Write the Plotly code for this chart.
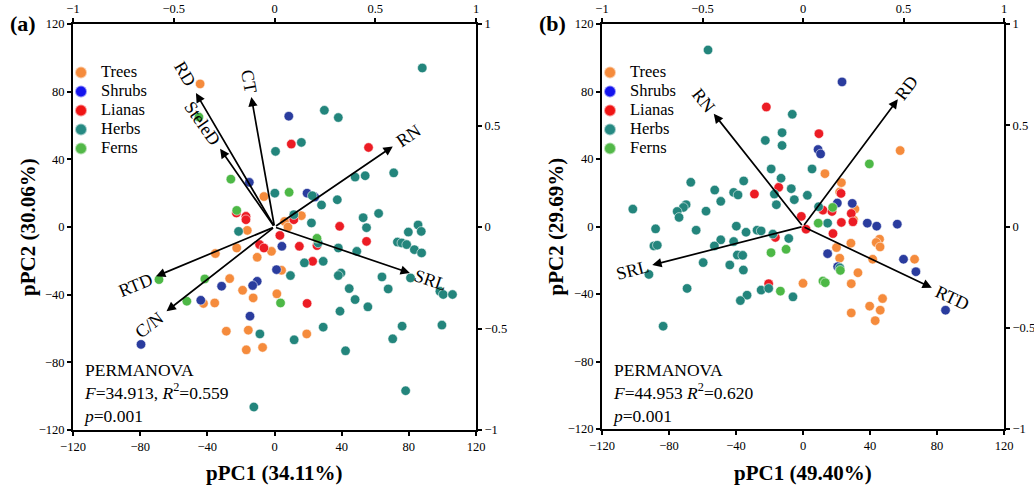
import math
import plotly.graph_objects as go

# ---------------- data ----------------
groups = ["Trees", "Shrubs", "Lianas", "Herbs", "Ferns"]

# Panel (a) sample scores (pPC1, pPC2)
a_trees = [(-44.3, 84.6), (-6.3, 18), (16, 6.7), (6, 3.3), (8, 0), (-16.2, -2), (-1.8, -14.4),
           (-22.5, -12.4), (-35.2, -15.7), (-10.3, -17.9), (4.2, -25.6), (-26.7, -30.5), (-19, -37.4),
           (1.4, -39.5), (-12.7, -41.9), (-42.3, -45.2), (-35.6, -44.9), (-28.7, -61.6), (-15.6, -61),
           (19.2, -63.2), (-16.8, -72.6), (-7.1, -71.2)]
a_shrubs = [(8.5, 65.5), (-15, 26.4), (19.4, 20), (24, 17.7), (4.4, -11.4), (1.2, -25.2), (-31.5, -35),
            (-10.3, -32.1), (-13, -34.6), (-43.9, -43.3), (-14.6, -52.7), (-79.5, -69.4)]
a_lianas = [(10, 49), (56, 47), (-22.7, 8.3), (-17, 6.3), (-17, 4.3), (11.5, 4.3), (38.8, 0.4), (3.2, -5),
            (-8.9, -10.4), (-6.3, -12.4), (14.8, -11.4), (25.3, -11), (54.8, -8.5), (22.7, -20.3),
            (19.4, -45.2)]
a_herbs = [(88, 94), (29.7, 69), (38, 64.7), (16, 50), (0.6, 44.7), (71, 32), (54, 30.3), (48, 29.5),
           (0.2, 20), (22.5, 18.5), (28, 13), (37.4, 16.1), (62, 8), (52.8, 5.5), (11.5, 7.3), (22, 2.4),
           (54.8, -0.4), (85.5, 1.2), (87.4, -2.6), (79.7, -3), (-21.4, -2.6), (26, -9.4), (38, -12.4),
           (49, -14.4), (73.2, -8.9), (75.8, -9.4), (78.7, -10.4), (83.3, -13.4), (87.6, -15.3),
           (17.8, -21.2), (29, -20.3), (39.6, -27.2), (38, -28.7), (9.5, -28.7), (64, -29.5), (81, -30.1),
           (44.5, -36.4), (67.7, -36.6), (98.5, -38), (100.5, -39.9), (106, -39.9), (48, -42.9),
           (55.6, -47.2), (39, -49.8), (29, -59.2), (76, -58.6), (99.7, -58), (-8.7, -63.2),
           (11.7, -66.7), (70.4, -66.1), (42.3, -73.2), (78.1, -96.8), (-12.3, -106.4)]
a_ferns = [(-45, 65), (-26, 28.3), (8.7, 20.5), (-22.5, 9.8), (25.3, -6.7), (-68.8, -31.1),
           (-41.5, -30.7), (-52.2, -43.9), (3.6, -44.9)]

# Panel (b) sample scores
b_trees = [(58, 45), (13.1, 31.3), (22.9, 26), (21.9, 20.4), (31, 10.3), (30.2, 4), (45.7, -7.5),
           (43.7, -9.5), (28.6, -9.9), (46, -12.1), (20, -12.5), (21.9, -18.8), (41.6, -19.4),
           (66.6, -19.4), (32.8, -27.4), (0, -33.7), (28.8, -33.9), (47.5, -42.7), (39.8, -47.2),
           (46.1, -49.6), (28.8, -51.2), (43.1, -55.8)]
b_shrubs = [(23.3, 85.7), (9, 45.6), (10.5, 43), (20.5, 13.9), (29.4, 13.7), (38.4, 2), (44, 0.2),
            (56.3, 1.4), (14.7, -16.1), (20.7, -23.8), (60, -19.4), (67.4, -26.8), (85.1, -49.6)]
b_lianas = [(-21.9, 70.8), (9.5, 55), (-14.5, 23.2), (-29, 19.2), (22.7, 19.6), (11.9, 9.7), (17.3, 8.9),
            (28.8, 7.7), (-1, 6), (22.9, 2.4), (29.8, 2.8), (1.8, -1.6), (-16.5, -6.5), (17.9, -4.2),
            (-20.5, -33.9)]
b_herbs = [(-56.7, 104.6), (-6.4, 66.5), (-12.5, 55.6), (-22.5, 51), (-12.5, 48), (-19, 34.1), (5.4, 34.1),
           (-67, 26.2), (-35.4, 27), (-13.1, 28.6), (-52.7, 21.6), (-41.4, 20.2), (-38.8, 18.7), (-7, 22.4),
           (-17.1, 19.2), (2.6, 18.5), (-49.1, 14.9), (-5.2, 15.9), (-69.8, 12.9), (-71.4, 11.3),
           (-101.6, 10.3), (-15.9, 12.9), (9.3, 11.7), (-75.1, 8.9), (-57.9, 9.1), (-74, 5.4), (14.7, 2),
           (-88, -1.4), (-63.8, -2.2), (-39.8, 0.2), (-34, -3.4), (-27.4, -2.2), (-25, -2.6), (-89, -11.5),
           (-87, -11.1), (-49.1, -7.9), (-52.9, -11.5), (-41.4, -8.9), (-8.5, -7.1), (-18, -4.5),
           (-59.6, -21.4), (-43.7, -22.8), (-39.2, -16.9), (-36, -17.1), (-35.6, -25.8), (22, -24.5),
           (-92, -28.4), (-69.2, -36.7), (-25, -37.7), (-20.5, -36.7), (-6, -41.7), (-33.4, -40.7),
           (-37.4, -43.9), (-83.5, -59.1)]
b_ferns = [(39.6, 37.1), (17.7, 11.3), (9.1, 2), (-19.1, -15.5), (-10.1, -13.5), (22.3, -26),
           (11.9, -32.3), (13.3, -33.3), (-13.5, -38.3)]

# Trait loadings (top/right axes, -1..1)
a_traits = ["RD", "SteleD", "CT", "RN", "SRL", "RTD", "C/N"]
a_load_x = [-0.39, -0.27, -0.115, 0.587, 0.672, -0.588, -0.536]
a_load_y = [0.66, 0.385, 0.64, 0.397, -0.227, -0.243, -0.415]

b_traits = ["RN", "RD", "SRL", "RTD"]
b_load_x = [-0.444, 0.472, -0.75, 0.641]
b_load_y = [0.557, 0.628, -0.19, -0.303]

axis_ticks = [-120, -80, -40, 0, 40, 80, 120]
load_ticks = [-1, -0.5, 0, 0.5, 1]

a_stats = ["PERMANOVA", "<i>F</i>=34.913, <i>R</i><sup>2</sup>=0.559", "<i>p</i>=0.001"]
b_stats = ["PERMANOVA", "<i>F</i>=44.953 <i>R</i><sup>2</sup>=0.620", "<i>p</i>=0.001"]
a_xtitle, a_ytitle = "pPC1 (34.11%)", "pPC2 (30.06%)"
b_xtitle, b_ytitle = "pPC1 (49.40%)", "pPC2 (29.69%)"

# ---------------- styles ----------------
W, H = 1034, 487
FONT = "Liberation Serif"
point_colors = {"Trees": "#F58B3C", "Shrubs": "#2A3C9E", "Lianas": "#EC1C24",
                "Herbs": "#23857C", "Ferns": "#4DB846"}
legend_colors = {"Trees": "#F58B3C", "Shrubs": "#1414EE", "Lianas": "#F01414",
                 "Herbs": "#268A83", "Ferns": "#52B848"}
label_scale_a = {"RD": 1.14, "SteleD": 1.33, "CT": 1.12, "RN": 1.13, "SRL": 1.15, "RTD": 1.17, "C/N": 1.16}
label_scale_b = {"RN": 1.12, "RD": 1.09, "SRL": 1.13, "RTD": 1.16}

# pixel layout
pa = dict(x0=73, x1=476, y0=24, y1=430)
pb = dict(x0=602, x1=1004, y0=24, y1=429)


def px_dom(p):
    return [p["x0"] / W, p["x1"] / W], [1 - p["y1"] / H, 1 - p["y0"] / H]


fig = go.Figure()

panels = [
    ("a", [a_trees, a_shrubs, a_lianas, a_herbs, a_ferns], "x", "y", "x3", "y3", "legend"),
    ("b", [b_trees, b_shrubs, b_lianas, b_herbs, b_ferns], "x2", "y2", "x4", "y4", "legend2"),
]

for tag, data, xa, ya, xa2, ya2, leg in panels:
    for g, pts in zip(groups, data):
        fig.add_trace(go.Scatter(
            x=[p[0] for p in pts], y=[p[1] for p in pts], mode="markers", name=g,
            xaxis=xa, yaxis=ya, showlegend=False, legendgroup=tag + g,
            marker=dict(size=9.5, color=point_colors[g],
                        line=dict(width=1, color="rgba(255,255,255,0.55)")),
            hoverinfo="x+y+name"))
    for g in groups:
        fig.add_trace(go.Scatter(
            x=[None], y=[None], mode="markers",
            name='<span style="font-size:16.5px">' + g + '</span>', xaxis=xa, yaxis=ya,
            legend=leg, legendgroup=tag + g,
            marker=dict(size=10, color=legend_colors[g],
                        line=dict(width=1, color="rgba(255,255,255,0.55)"))))
    # secondary (loading) axes
    fig.add_trace(go.Scatter(x=[None], y=[None], xaxis=xa2, yaxis=ya2, showlegend=False,
                             hoverinfo="skip"))

base_axis = dict(showgrid=False, zeroline=False, showline=True, linecolor="black", linewidth=2,
                 ticks="outside", ticklen=4, tickwidth=1.5, tickcolor="black", automargin=False,
                 tickfont=dict(family=FONT, size=12.5, color="black"))

layout_axes = {}
for p, xn, yn, xn2, yn2, xr, yr in [(pa, "xaxis", "yaxis", "xaxis3", "yaxis3", "x", "y"),
                                     (pb, "xaxis2", "yaxis2", "xaxis4", "yaxis4", "x2", "y2")]:
    xd, yd = px_dom(p)
    layout_axes[xn] = dict(base_axis, domain=xd, range=[-120, 120], tickvals=axis_ticks, anchor=yr)
    layout_axes[yn] = dict(base_axis, domain=yd, range=[-120, 120], tickvals=axis_ticks, anchor=xr)
    layout_axes[xn2] = dict(base_axis, range=[-1, 1], tickvals=load_ticks, overlaying=xr, side="top",
                            anchor=yr)
    layout_axes[yn2] = dict(base_axis, range=[-1, 1], tickvals=load_ticks, overlaying=yr, side="right",
                            anchor=xr)

annotations = []


def add_biplot(traits, lx, ly, scales, xr, yr):
    for t, vx, vy in zip(traits, lx, ly):
        tx, ty = vx * 120, vy * 120
        annotations.append(dict(x=tx, y=ty, ax=0, ay=0, xref=xr, yref=yr, axref=xr, ayref=yr,
                                text="", showarrow=True, arrowhead=2, arrowsize=1.1,
                                arrowwidth=1.7, arrowcolor="black"))
        ang = math.degrees(math.atan2(vy, vx))
        if ang > 90:
            ang -= 180
        elif ang < -90:
            ang += 180
        s = scales[t]
        annotations.append(dict(x=tx * s, y=ty * s, xref=xr, yref=yr, text=t, showarrow=False,
                                textangle=-ang, font=dict(family=FONT, size=18, color="black")))


add_biplot(a_traits, a_load_x, a_load_y, label_scale_a, "x", "y")
add_biplot(b_traits, b_load_x, b_load_y, label_scale_b, "x2", "y2")

for p, stats, xt, yt, lab, ytx in [(pa, a_stats, a_xtitle, a_ytitle, "(a)", 28),
                                   (pb, b_stats, b_xtitle, b_ytitle, "(b)", 555)]:
    annotations.append(dict(xref="paper", yref="paper", x=(p["x0"] + 8) / W, y=1 - 358 / H,
                            xanchor="left", yanchor="top", align="left", showarrow=False,
                            text="<br>".join(stats), font=dict(family=FONT, size=17.5, color="black")))
    annotations.append(dict(xref="paper", yref="paper", x=(p["x0"] + p["x1"]) / 2 / W, y=1 - 473 / H,
                            xanchor="center", yanchor="middle", showarrow=False,
                            text="<b>" + xt + "</b>", font=dict(family=FONT, size=21, color="black")))
    annotations.append(dict(xref="paper", yref="paper", x=ytx / W, y=1 - (p["y0"] + p["y1"]) / 2 / H,
                            xanchor="center", yanchor="middle", showarrow=False, textangle=-90,
                            text="<b>" + yt + "</b>", font=dict(family=FONT, size=21, color="black")))
    annotations.append(dict(xref="paper", yref="paper", x=(p["x0"] - 50) / W, y=1 - 24 / H,
                            xanchor="center", yanchor="middle", showarrow=False,
                            text="<b>" + lab + "</b>", font=dict(family=FONT, size=22, color="black")))

legend_style = dict(font=dict(family=FONT, size=11.8, color="black"), bgcolor="rgba(0,0,0,0)",
                    borderwidth=0, xanchor="left", yanchor="top", itemsizing="constant",
                    tracegroupgap=0, itemwidth=30)

fig.update_layout(
    width=W, height=H, margin=dict(l=0, r=0, t=0, b=0),
    paper_bgcolor="white", plot_bgcolor="white",
    annotations=annotations,
    legend=dict(legend_style, x=(pa["x0"] - 12) / W, y=1 - 58 / H),
    legend2=dict(legend_style, x=(pb["x0"] - 12) / W, y=1 - 58 / H),
    **layout_axes,
)

fig.write_html("out.html", config={"displayModeBar": False},
               post_script="document.body.style.margin='0px';")
